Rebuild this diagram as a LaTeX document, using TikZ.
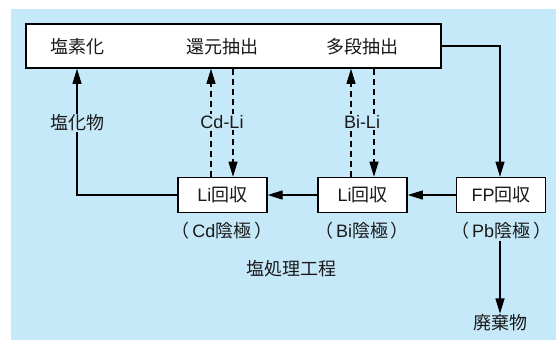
\documentclass[tikz,border=0pt]{standalone}
\usepackage{fontspec}
\setmainfont{Liberation Sans}
\newfontfamily\jp{Noto Sans CJK JP}
\usetikzlibrary{arrows.meta}
\definecolor{bg}{RGB}{198,233,249}
\definecolor{ink}{RGB}{25,25,25}
\begin{document}
\begin{tikzpicture}[x=1pt,y=-1pt,
  txt/.style={font=\fontsize{18}{20}\selectfont, text=ink, inner sep=1pt},
  box/.style={txt, draw=black, line width=1.6pt, fill=white, minimum height=35pt, minimum width=89pt},
  lab/.style={txt, fill=bg},
  conn/.style={line width=1.1pt, -{Triangle[length=15pt,width=9pt]}},
  dconn/.style={conn, dash pattern=on 6pt off 4pt},
]
\useasboundingbox (0,0) rectangle (556,340);
\fill[bg] (11,9) rectangle (556,340);

% top process box
\node[box, minimum width=415pt, minimum height=44pt] (top) at (233.5,46) {};
\node[txt] (chl) at (77,47) {\jp 塩素化};
\node[txt] (red) at (222,47) {\jp 還元抽出};
\node[txt] (mul) at (362,47) {\jp 多段抽出};

% bottom boxes
\node[box] (li1) at (222.3,195) {Li{\jp 回収}};
\node[box] (li2) at (362.5,195) {Li{\jp 回収}};
\node[box] (fp)  at (501,195) {FP{\jp 回収}};

\node[txt] (cdc) at (222,231) {{\jp （}\hspace{3pt}Cd{\jp 陰極}\hspace{3pt}{\jp ）}};
\node[txt] (bic) at (362,231) {{\jp （}\hspace{3pt}Bi{\jp 陰極}\hspace{3pt}{\jp ）}};
\node[txt] (pbc) at (501,231) {{\jp （}\hspace{3pt}Pb{\jp 陰極}\hspace{3pt}{\jp ）}};

\node[txt] (proc) at (291,269) {\jp 塩処理工程};
\node[txt] (waste) at (500,323) {\jp 廃棄物};

% coordinates for vertical lines
\coordinate (xchl) at (77,0);
\coordinate (cdup) at (211,0);
\coordinate (cddn) at (233,0);
\coordinate (biup) at (351,0);
\coordinate (bidn) at (374,0);
\coordinate (xfp) at (500,0);

% connectors
\draw[conn] (top.east |- 0,46) -| (fp.north -| xfp);
\draw[conn] (fp.west) -- (li2.east);
\draw[conn] (li2.west) -- (li1.east);
\draw[conn] (li1.west) -| (top.south -| xchl);

\draw[dconn] (li1.north -| cdup) -- (top.south -| cdup);
\draw[dconn] (top.south -| cddn) -- (li1.north -| cddn);
\draw[dconn] (li2.north -| biup) -- (top.south -| biup);
\draw[dconn] (top.south -| bidn) -- (li2.north -| bidn);

\draw[conn] (pbc.south -| xfp) -- (waste.north -| xfp);

% labels on lines
\node[lab] (chlo) at (77,123) {\jp 塩化物};
\node[lab] (cdli) at (222,122) {Cd-Li};
\node[lab] (bili) at (362,122) {Bi-Li};
\end{tikzpicture}
\end{document}
